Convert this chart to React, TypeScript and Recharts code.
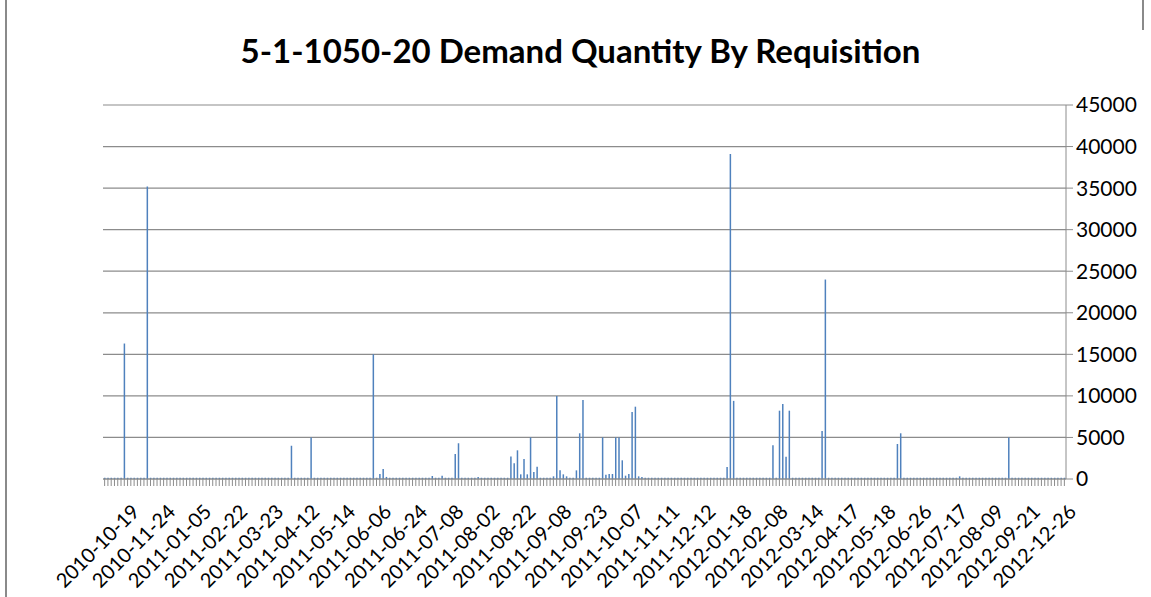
import { BarChart, Bar, XAxis, YAxis, CartesianGrid } from "recharts";

const tickLabels = [
  "2010-10-19", "2010-11-24", "2011-01-05", "2011-02-22", "2011-03-23",
  "2011-04-12", "2011-05-14", "2011-06-06", "2011-06-24", "2011-07-08",
  "2011-08-02", "2011-08-22", "2011-09-08", "2011-09-23", "2011-10-07",
  "2011-11-11", "2011-12-12", "2012-01-18", "2012-02-08", "2012-03-14",
  "2012-04-17", "2012-05-18", "2012-06-26", "2012-07-17", "2012-08-09",
  "2012-09-21", "2012-12-26",
];

// demand quantity per requisition, one value per category (294)
const demand = [
  150, 150, 150, 150, 150, 150, 16300, 150, 150, 150,
  150, 150, 150, 35200, 150, 150, 150, 150, 150, 150,
  150, 150, 150, 150, 150, 150, 150, 150, 150, 150,
  150, 150, 150, 150, 150, 150, 150, 150, 150, 150,
  150, 150, 150, 150, 150, 150, 150, 150, 150, 150,
  150, 150, 150, 150, 150, 150, 150, 4000, 150, 150,
  150, 150, 150, 5000, 150, 150, 150, 150, 150, 150,
  150, 150, 150, 150, 150, 150, 150, 150, 150, 150,
  150, 150, 15000, 150, 600, 1200, 250, 150, 150, 150,
  150, 150, 150, 150, 150, 150, 150, 150, 150, 150,
  360, 150, 150, 400, 150, 150, 150, 3000, 4300, 150,
  150, 150, 150, 150, 250, 150, 150, 150, 150, 150,
  150, 150, 150, 150, 2700, 1900, 3450, 560, 2400, 560,
  5000, 840, 1480, 150, 150, 150, 150, 320, 10000, 1040,
  560, 320, 150, 150, 1040, 5500, 9500, 150, 150, 150,
  150, 150, 5000, 520, 600, 600, 5000, 5000, 2250, 400,
  600, 8060, 8700, 320, 240, 150, 150, 150, 150, 150,
  150, 150, 150, 150, 150, 150, 150, 150, 150, 150,
  150, 150, 150, 150, 150, 150, 150, 150, 150, 150,
  1440, 39100, 9400, 150, 150, 150, 150, 150, 150, 150,
  150, 150, 150, 150, 4050, 150, 8220, 9020, 2690, 8220,
  150, 150, 150, 150, 150, 150, 150, 150, 150, 5780,
  24000, 150, 150, 150, 150, 150, 150, 150, 150, 150,
  150, 150, 150, 150, 150, 150, 150, 150, 150, 150,
  150, 150, 4210, 5500, 150, 150, 150, 150, 150, 150,
  150, 150, 150, 150, 150, 150, 150, 150, 150, 150,
  150, 320, 150, 150, 150, 150, 150, 150, 150, 150,
  150, 150, 150, 150, 150, 150, 5000, 150, 150, 150,
  150, 150, 150, 150, 150, 150, 150, 150, 150, 150,
  150, 150, 150, 150,
];

const yTicks = [0, 5000, 10000, 15000, 20000, 25000, 30000, 35000, 40000, 45000];

const data = demand.map((v, i) => ({ i, v }));

const FONT = "Lato, 'Open Sans', sans-serif";

const DateTick = (props: any) => {
  const { x, y, payload } = props;
  const idx = payload.value as number;
  if (idx % 11 !== 0) return null;
  return (
    <g transform={`translate(${x + 31},${y + 20})`}>
      <text
        textAnchor="end"
        transform="rotate(-45)"
        fontSize={20}
        fontFamily={FONT}
        fill="#000"
        dy="0.35em"
      >
        {tickLabels[idx / 11]}
      </text>
    </g>
  );
};

export default function App() {
  return (
    <div
      style={{
        position: "absolute",
        left: 0,
        top: 0,
        width: 1151,
        height: 597,
        background: "#fff",
        overflow: "hidden",
      }}
    >
      {/* chart area frame: full left edge, short stub at top right */}
      <div
        style={{
          position: "absolute",
          left: 5,
          top: 0,
          width: 2,
          height: 597,
          background: "#8a8a8a",
        }}
      />
      <div
        style={{
          position: "absolute",
          left: 1142,
          top: 0,
          width: 2,
          height: 30,
          background: "#8a8a8a",
        }}
      />
      <div
        style={{
          position: "absolute",
          left: 0,
          width: 1161,
          top: 30,
          textAlign: "center",
          fontFamily: FONT,
          fontWeight: 700,
          fontSize: 33,
          color: "#000",
        }}
      >
        5-1-1050-20 Demand Quantity By Requisition
      </div>
      <BarChart
        width={1151}
        height={597}
        data={data}
        margin={{ top: 105, right: 25, left: 103, bottom: 8 }}
        barSize={1.5}
        style={{ position: "absolute", left: 0, top: 0 }}
      >
        <CartesianGrid vertical={false} stroke="#8c8c8c" strokeWidth={1.2} />
        <XAxis
          dataKey="i"
          type="category"
          interval={0}
          height={110}
          tickSize={7}
          tickLine={{ stroke: "#8c8c8c" }}
          axisLine={{ stroke: "#8c8c8c" }}
          tick={<DateTick />}
        />
        <YAxis
          orientation="right"
          width={60}
          domain={[0, 45000]}
          ticks={yTicks}
          interval={0}
          tickSize={7}
          tickMargin={3}
          tickLine={{ stroke: "#8c8c8c" }}
          axisLine={{ stroke: "#8c8c8c" }}
          tick={{ fill: "#000", fontSize: 21, fontFamily: FONT }}
        />
        <Bar dataKey="v" fill="#4F81BD" isAnimationActive={false} />
      </BarChart>
    </div>
  );
}
